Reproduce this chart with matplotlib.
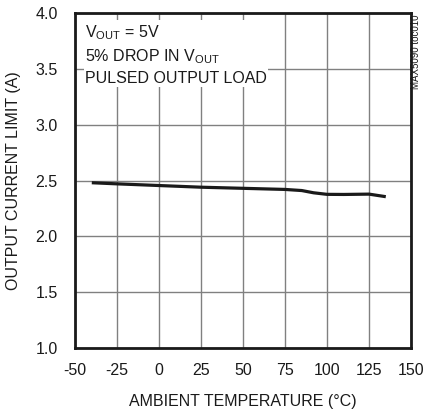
import matplotlib
matplotlib.use("Agg")
import matplotlib.pyplot as plt

plt.rcParams['font.family'] = ['Liberation Sans', 'DejaVu Sans']
plt.rcParams['mathtext.fontset'] = 'custom'
plt.rcParams['mathtext.rm'] = 'Liberation Sans'
plt.rcParams['mathtext.it'] = 'Liberation Sans'

temp = [-40, -25, 0, 25, 50, 75, 85, 92, 100, 110, 125, 135]
ilim = [2.48, 2.47, 2.455, 2.44, 2.43, 2.42, 2.41, 2.39, 2.376, 2.375, 2.378, 2.355]

xticks = [-50, -25, 0, 25, 50, 75, 100, 125, 150]
yticks = [1.0, 1.5, 2.0, 2.5, 3.0, 3.5, 4.0]

fig = plt.figure(figsize=(4.25, 4.12), dpi=100)
ax = fig.add_axes([75/425, 64/412, 336/425, 335/412])
ax.plot(temp, ilim, color='#1a1a1a', lw=2.3, solid_capstyle='butt')
ax.set_xlim(-50, 150)
ax.set_ylim(1.0, 4.0)
ax.set_xticks(xticks)
ax.set_xticklabels([str(v) for v in xticks])
ax.set_yticks(yticks)
ax.set_yticklabels([f"{v:.1f}" for v in yticks])
ax.grid(True, color='#808080', lw=1.0)
ax.tick_params(length=0, labelsize=11.5, colors='#1a1a1a')
ax.tick_params(axis='x', pad=11)
ax.tick_params(axis='y', pad=12.5)
for s in ax.spines.values():
    s.set_linewidth(2.0)
    s.set_color('#1a1a1a')
ax.set_xlabel('AMBIENT TEMPERATURE (°C)', fontsize=11.5, color='#1a1a1a', labelpad=11)
ax.set_ylabel('OUTPUT CURRENT LIMIT (A)', fontsize=11.5, color='#1a1a1a', labelpad=10)

txt = "V$_{\\rm OUT}$ = 5V\n5% DROP IN V$_{\\rm OUT}$\nPULSED OUTPUT LOAD"
ax.text(0.03, 0.97, txt, transform=ax.transAxes, ha='left', va='top', fontsize=11.5,
        color='#1a1a1a', linespacing=1.4,
        bbox=dict(facecolor='white', edgecolor='none', pad=1))
fig.text(411/425, 0.965, 'MAX5090 toc010', rotation=90, ha='left', va='top', fontsize=7, color='#1a1a1a')
fig.savefig('out.png', dpi=100)
